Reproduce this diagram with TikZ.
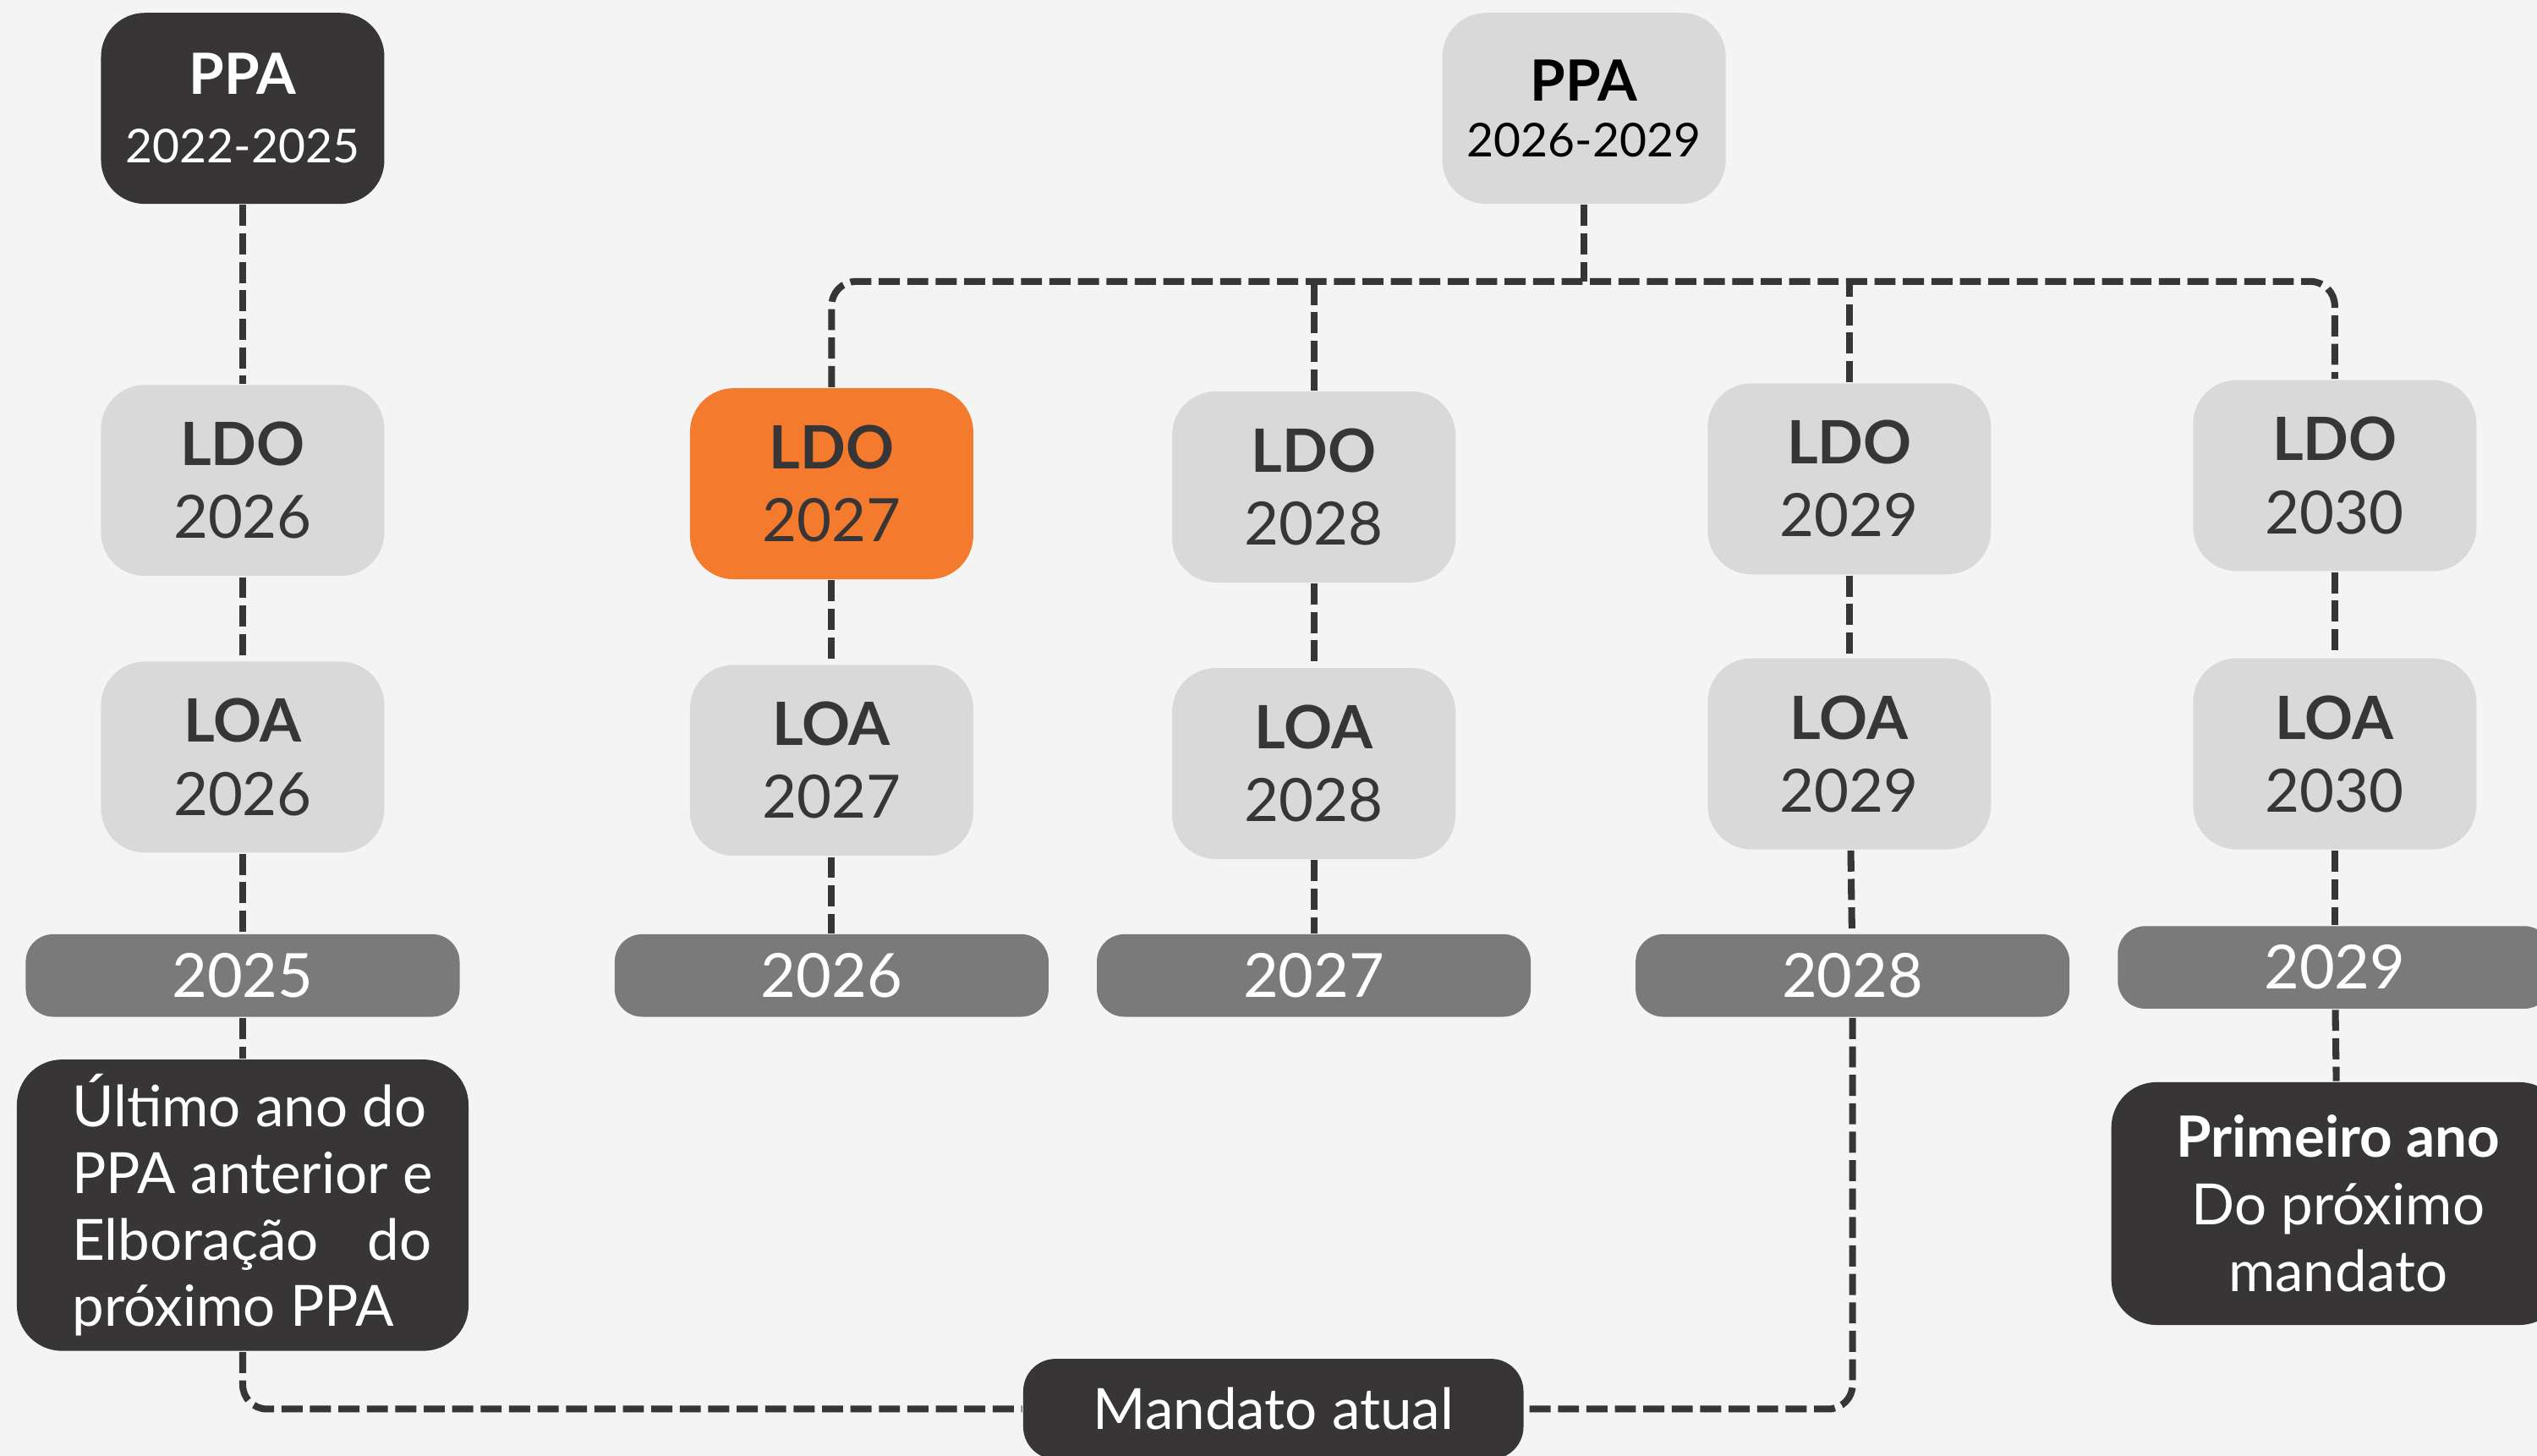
\documentclass[tikz,border=0pt]{standalone}
\usepackage{fontspec}
\setmainfont{Lato}

\definecolor{bgGray}{HTML}{F4F4F4}
\definecolor{inkDark}{HTML}{373536}
\definecolor{boxGray}{HTML}{D9D9D9}
\definecolor{barGray}{HTML}{7A7A7A}
\definecolor{accentOrange}{HTML}{F47A2E}
\newcommand\yrsmall{\fontsize{8.2}{11}\selectfont}
\newcommand\indnote{\hspace*{0.12cm}}

\begin{document}
\begin{tikzpicture}[x=0.01cm,y=-0.01cm,
  card/.style={rectangle,rounded corners=0.27cm,minimum width=1.75cm,minimum height=1.18cm,
    inner sep=0pt,align=center,fill=boxGray,text=inkDark,font=\fontsize{10.5}{12.8}\selectfont},
  ppacard/.style={card,font=\fontsize{10}{12}\selectfont},
  yearbar/.style={rectangle,rounded corners=0.17cm,minimum width=2.68cm,minimum height=0.51cm,
    inner sep=0pt,fill=barGray,text=white,font=\fontsize{10.7}{12}\selectfont},
  notebox/.style={rectangle,rounded corners=0.28cm,fill=inkDark,text=white,inner sep=0pt},
  link/.style={draw=inkDark,line width=1.2pt,dash pattern=on 3.7pt off 1.3pt}]
\fill[bgGray] (0,0) rectangle (1568,900);
\useasboundingbox (0,0) rectangle (1568,900);

% PPA
\node[ppacard,fill=inkDark,text=white] (ppa22) at (150,67) {\textbf{PPA}\\\yrsmall 2022-2025};
\node[ppacard,text=black] (ppa26) at (979,67) {\textbf{PPA}\\[-0.08cm]\yrsmall 2026-2029};

% LDO
\node[card] (ldo26) at (150,297) {\textbf{LDO}\\2026};
\node[card,fill=accentOrange] (ldo27) at (514,299) {\textbf{LDO}\\2027};
\node[card] (ldo28) at (812,301) {\textbf{LDO}\\2028};
\node[card] (ldo29) at (1143,296) {\textbf{LDO}\\2029};
\node[card] (ldo30) at (1443,294) {\textbf{LDO}\\2030};

% LOA
\node[card] (loa26) at (150,468) {\textbf{LOA}\\2026};
\node[card] (loa27) at (514,470) {\textbf{LOA}\\2027};
\node[card] (loa28) at (812,472) {\textbf{LOA}\\2028};
\node[card] (loa29) at (1143,466) {\textbf{LOA}\\2029};
\node[card] (loa30) at (1443,466) {\textbf{LOA}\\2030};

% anos
\node[yearbar] (y25) at (150,603) {2025};
\node[yearbar] (y26) at (514,603) {2026};
\node[yearbar] (y27) at (812,603) {2027};
\node[yearbar] (y28) at (1145,603) {2028};
\node[yearbar] (y29) at (1443,598) {2029};

% notas
\node[notebox,minimum width=2.79cm,minimum height=1.8cm,align=left,
  font=\fontsize{10}{11.7}\selectfont] (last) at (150,745)
  {\indnote Último ano do\\\indnote PPA anterior e\\\indnote\makebox[2.22cm][s]{Elboração do}\\\indnote próximo PPA};
\node[notebox,minimum width=2.8cm,minimum height=1.5cm,align=center,
  font=\fontsize{10}{11.8}\selectfont] (first) at (1445,744)
  {\textbf{Primeiro ano}\\Do próximo\\mandato};
\node[notebox,rounded corners=0.2cm,minimum width=3.09cm,minimum height=0.62cm,
  font=\fontsize{10}{12}\selectfont] (mandato) at (787,871) {Mandato atual};

% ligacoes
\coordinate (hub) at (979,174);
\draw[link] (ppa22) -- (ldo26);
\draw[link] (ldo26) -- (loa26);
\draw[link] (loa26) -- (y25);
\draw[link] (y25) -- (last);
\draw[link] (ppa26) -- (hub);
\draw[link,rounded corners=0.15cm] (ldo27) |- (hub) -| (ldo30);
\draw[link] (ldo28) -- (ldo28.north |- hub);
\draw[link] (ldo29) -- (ldo29.north |- hub);
\draw[link] (ldo27) -- (loa27);
\draw[link] (loa27) -- (y26);
\draw[link] (ldo28) -- (loa28);
\draw[link] (loa28) -- (y27);
\draw[link] (ldo29) -- (loa29);
\draw[link] (loa29) -- (y28);
\draw[link] (ldo30) -- (loa30);
\draw[link] (loa30) -- (y29);
\draw[link] (y29) -- (first);
\draw[link,rounded corners=0.15cm] (last) |- (mandato);
\draw[link,rounded corners=0.15cm] (y28) |- (mandato);
\end{tikzpicture}
\end{document}
